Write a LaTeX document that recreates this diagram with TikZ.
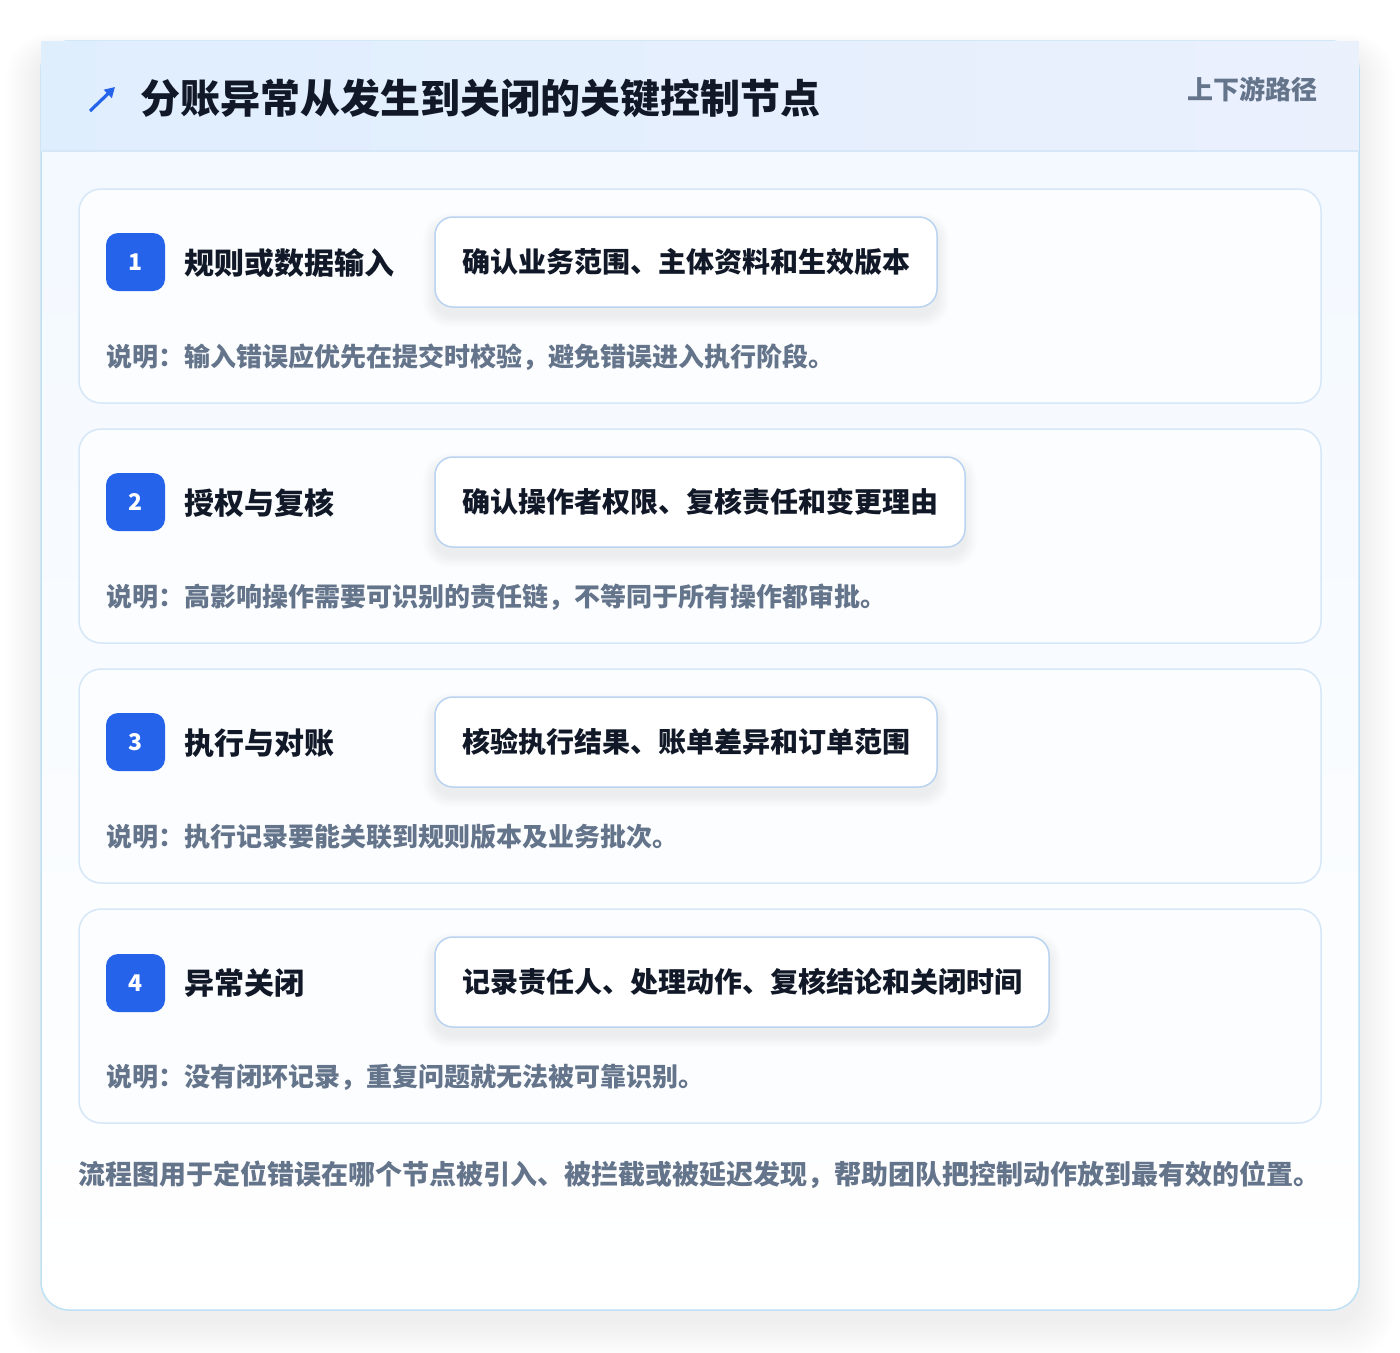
\documentclass[tikz,border=0pt]{standalone}
\usepackage{fontspec}
\setmainfont{Noto Sans CJK SC}
\usetikzlibrary{calc,arrows.meta}
\definecolor{ink}{HTML}{111827}
\definecolor{muted}{HTML}{64748B}
\definecolor{accent}{HTML}{2563EB}
\definecolor{cardline}{HTML}{BEE0F5}
\definecolor{stepline}{HTML}{D6E7F7}
\definecolor{pillline}{HTML}{BAD3F0}
\definecolor{hdrA}{HTML}{DFEEFD}
\definecolor{hdrB}{HTML}{EBF0FD}
\definecolor{cardtop}{HTML}{F2F8FF}
\definecolor{stepfill}{HTML}{FBFDFF}
\tikzset{
  stepcard/.style={draw=stepline, line width=1.5pt, fill=stepfill, rounded corners=22pt, minimum width=1242pt, minimum height=214pt, inner sep=0pt},
  badge/.style={fill=accent, rounded corners=12pt, minimum width=59pt, minimum height=58pt, inner sep=0pt, text=white, font=\fontsize{23}{25}\selectfont\bfseries},
  steptitle/.style={anchor=west, inner sep=0pt, text=ink, font=\fontsize{30}{34}\selectfont\bfseries},
  pill/.style={draw=pillline, line width=1.5pt, fill=white, rounded corners=18pt, minimum height=90pt, inner sep=0pt, text=ink, font=\fontsize{28}{32}\selectfont\bfseries},
  note/.style={anchor=west, inner sep=0pt, text=muted, font=\fontsize{26}{30}\selectfont\bfseries},
}
\newcommand{\pillshadow}[4]{%
  \foreach \k in {1,...,8}{
    \fill[black, opacity=0.006, rounded corners=18pt+\k pt] ($(#1,#2)+(-\k*1.5,-\k*1.5+8)$) rectangle ($(#3,#4)+(\k*1.5,\k*1.5+8)$);
  }%
}
\begin{document}
\begin{tikzpicture}[x=1pt,y=-1pt]
\useasboundingbox (0,0) rectangle (1400,1352);
\fill[white] (0,0) rectangle (1400,1352);
% outer card shadow
\foreach \k in {1,...,16}{
  \fill[black, opacity=0.0038, rounded corners=28pt+\k pt] (41-\k*2.2, 41-\k*1.2+12) rectangle (1359+\k*2.2, 1310+\k*2.2+12);
}
% outer card
\shade[top color=cardtop, bottom color=white, rounded corners=28pt] (41,41) rectangle (1359,1310);
\draw[cardline, line width=1.5pt, rounded corners=28pt] (41,41) rectangle (1359,1310);
% header band
\shade[left color=hdrA, right color=hdrB] (41.5,41.5) rectangle (1358.5,151);
\draw[stepline, line width=1.2pt] (42,151) -- (1358,151);
\coordinate (iconA) at (90,111);
\coordinate (iconB) at (115,87);
\draw[accent, line width=3.2pt, -{Triangle[length=10pt,width=11pt]}] (iconA) -- (iconB);
\node[anchor=west, inner sep=0pt, text=ink, font=\fontsize{40}{46}\selectfont\bfseries] (title) at (140,98) {分账异常从发生到关闭的关键控制节点};
\node[anchor=east, inner sep=0pt, text=muted, font=\fontsize{26}{30}\selectfont\bfseries] (path) at (1318,89) {上下游路径};

% step 1
\node[stepcard] (card1) at (700,296) {};
\node[badge] (b1) at (135.5,262) {1};
\node[steptitle] (t1) at (184,263) {规则或数据输入};
\pillshadow{435}{217}{937}{307}
\node[pill, minimum width=502pt] (p1) at (686,262) {确认业务范围、主体资料和生效版本};
\node[note] (n1) at (106,357) {说明：输入错误应优先在提交时校验，避免错误进入执行阶段。};

% step 2
\node[stepcard] (card2) at (700,536) {};
\node[badge] (b2) at (135.5,502) {2};
\node[steptitle] (t2) at (184,503) {授权与复核};
\pillshadow{435}{457}{965}{547}
\node[pill, minimum width=530pt] (p2) at (700,502) {确认操作者权限、复核责任和变更理由};
\node[note] (n2) at (106,597) {说明：高影响操作需要可识别的责任链，不等同于所有操作都审批。};

% step 3
\node[stepcard] (card3) at (700,776) {};
\node[badge] (b3) at (135.5,742) {3};
\node[steptitle] (t3) at (184,743) {执行与对账};
\pillshadow{435}{697}{937}{787}
\node[pill, minimum width=502pt] (p3) at (686,742) {核验执行结果、账单差异和订单范围};
\node[note] (n3) at (106,837) {说明：执行记录要能关联到规则版本及业务批次。};

% step 4
\node[stepcard] (card4) at (700,1016) {};
\node[badge] (b4) at (135.5,983) {4};
\node[steptitle] (t4) at (184,983) {异常关闭};
\pillshadow{435}{937}{1049}{1027}
\node[pill, minimum width=614pt] (p4) at (742,982) {记录责任人、处理动作、复核结论和关闭时间};
\node[note] (n4) at (106,1077) {说明：没有闭环记录，重复问题就无法被可靠识别。};

% footer
\node[anchor=west, inner sep=0pt, text=muted, font=\fontsize{27}{31}\selectfont\bfseries] (foot) at (78,1175) {流程图用于定位错误在哪个节点被引入、被拦截或被延迟发现，帮助团队把控制动作放到最有效的位置。};
\end{tikzpicture}
\end{document}
